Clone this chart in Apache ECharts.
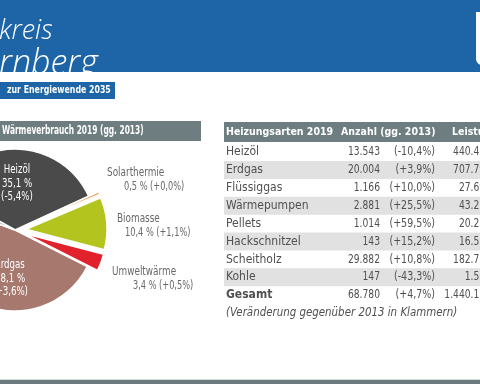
<!DOCTYPE html>
<html><head><meta charset="utf-8">
<script src="https://cdn.jsdelivr.net/npm/echarts@6/dist/echarts.min.js"></script>
<style>html,body{margin:0;padding:0;background:#fff}#c{width:480px;height:384px}</style>
</head><body><div id="c"></div>
<script>
// ---- data ----
const pieNames = ['Heizöl','Solarthermie','Biomasse','Umweltwärme','Erdgas','Sonstige'];
const pieShares = [35.1, 0.5, 10.4, 3.4, 48.1, 2.5];
const pieShareLabels = ['35,1 %','0,5 %','10,4 %','3,4 %','48,1 %',''];
const pieChanges = ['(-5,4%)','(+0,0%)','(+1,1%)','(+0,5%)','(+3,6%)',''];

const tableHeaders = ['Heizungsarten 2019','Anzahl (gg. 2013)','Leistung (kW)'];
const tableCategories = ['Heizöl','Erdgas','Flüssiggas','Wärmepumpen','Pellets','Hackschnitzel','Scheitholz','Kohle','Gesamt'];
const tableCounts = ['13.543','20.004','1.166','2.881','1.014','143','29.882','147','68.780'];
const tableCountChanges = ['(-10,4%)','(+3,9%)','(+10,0%)','(+25,5%)','(+59,5%)','(+15,2%)','(+10,8%)','(-43,3%)','(+4,7%)'];
const tablePower = ['440.434','707.796','27.693','43.215','20.252','16.537','182.713','1.535','1.440.175'];

const titleLine1 = 'kreis';
const titleLine2 = 'rnberg';
const subtitle = 'zur Energiewende 2035';
const pieTitle = 'Wärmeverbrauch 2019 (gg. 2013)';
const footnote = '(Veränderung gegenüber 2013 in Klammern)';

// ---- styles ----
const FONT = "'DejaVu Sans Condensed','DejaVu Sans',sans-serif";
const sliceColors = ['#4a4a4a','#ee8a3a','#b4c41e','#e1212b','#a6786e','#bdbdbd'];
const sliceSelected = [false,true,true,true,false,false];
const labelLayouts = [
  {kind:'in', x:17, y:170},
  {kind:'out', x:107, y:173, vx:124},
  {kind:'out', x:117, y:219, vx:125},
  {kind:'out', x:112, y:272, vx:133},
  {kind:'in', x:10, y:265},
  null
];
const BLUE = '#1d65a6', BAR = '#6e7e80', TXT = '#505050', LBL = '#686868';

const pieData = pieNames.map((n,i)=>({
  name:n, value:pieShares[i], selected:sliceSelected[i],
  itemStyle:{color:sliceColors[i]}
}));

function txt(t,x,y,o){
  o=o||{};
  return {type:'text',silent:true,z:10,x:x,y:y,scaleX:o.sx||1,
    style:{text:t,x:0,y:0,fill:o.fill||TXT,
    font:(o.style||'normal')+' '+(o.weight||'normal')+' '+(o.size||11.5)+'px '+(o.family||FONT),
    textAlign:o.align||'left',align:o.align||'left',textVerticalAlign:'middle',verticalAlign:'middle'}};
}

const g = [];
g.push({type:'rect',shape:{x:0,y:0,width:480,height:72},style:{fill:BLUE},silent:true});
g.push({type:'rect',shape:{x:476,y:12,width:10,height:53,r:[0,0,0,6]},style:{fill:'#fff'},silent:true});
g.push(txt(titleLine1,-1,31,{fill:'#fff',style:'italic',weight:300,size:27,family:"'Open Sans',sans-serif"}));
g.push(txt(titleLine2,-1,64,{fill:'#fff',style:'italic',weight:300,size:34,family:"'Open Sans',sans-serif"}));
g.push({type:'rect',shape:{x:0,y:82,width:115,height:17},style:{fill:BLUE},silent:true});
g.push(txt(subtitle,7,90.5,{fill:'#fff',weight:'bold',size:11,sx:0.79}));
// pie header
g.push({type:'rect',shape:{x:0,y:121,width:201,height:20},style:{fill:BAR},silent:true});
g.push(txt(pieTitle,2,131,{fill:'#fff',weight:'bold',size:11.5,sx:0.72}));
// pie labels (text from data arrays)
labelLayouts.forEach((L,i)=>{
  if (!L) return;
  if (L.kind==='in') {
    [pieNames[i],pieShareLabels[i],pieChanges[i]].forEach((s,k)=>{
      g.push(txt(s,L.x,L.y+k*13.5,{fill:'#fff',align:'center',size:12,sx:0.8}));
    });
  } else {
    g.push(txt(pieNames[i],L.x,L.y,{fill:LBL,size:12.5,sx:0.79}));
    g.push(txt(pieShareLabels[i]+' '+pieChanges[i],L.vx,L.y+14,{fill:LBL,size:12.5,sx:0.73}));
  }
});
// table header
g.push({type:'rect',shape:{x:224,y:122,width:256,height:20},style:{fill:BAR},silent:true});
g.push(txt(tableHeaders[0],226,132,{fill:'#fff',weight:'bold',size:10.5}));
g.push(txt(tableHeaders[1],341,132,{fill:'#fff',weight:'bold',size:10.5}));
g.push(txt(tableHeaders[2],452,132,{fill:'#fff',weight:'bold',size:10.5}));
// table rows
tableCategories.forEach((c,i)=>{
  const cy = 152 + i*17.9;
  if (i%2===1) g.push({type:'rect',shape:{x:224,y:cy-9,width:256,height:18},style:{fill:'#e1e1e1'},silent:true});
  const last = i===tableCategories.length-1;
  g.push(txt(c,226,cy,{weight:last?'bold':'normal',size:12}));
  g.push(txt(tableCounts[i],380,cy,{align:'right',size:12,sx:0.85}));
  g.push(txt(tableCountChanges[i],435,cy,{align:'right',size:12,sx:0.88}));
  g.push(txt(tablePower[i],491,cy,{align:'right',size:12,sx:0.85}));
});
g.push(txt(footnote,226,313,{style:'italic',size:12,sx:0.95}));
// bottom bar
g.push({type:'rect',shape:{x:0,y:379,width:480,height:1},style:{fill:'#d3dfe1'},silent:true});
g.push({type:'rect',shape:{x:0,y:380,width:480,height:4},style:{fill:'#6b7a7c'},silent:true});

const chart = echarts.init(document.getElementById('c'),null,{renderer:'canvas'});
chart.setOption({
  animation:false,
  backgroundColor:'#fff',
  graphic:{elements:g},
  series:[{
    type:'pie',
    center:[15,230],
    radius:81,
    startAngle:151,
    clockwise:true,
    selectedMode:'multiple',
    selectedOffset:11,
    silent:true,
    z:2,
    itemStyle:{borderColor:'#fff',borderWidth:1.5},
    label:{show:false},
    labelLine:{show:false},
    data:pieData
  }]
});
</script></body></html>
